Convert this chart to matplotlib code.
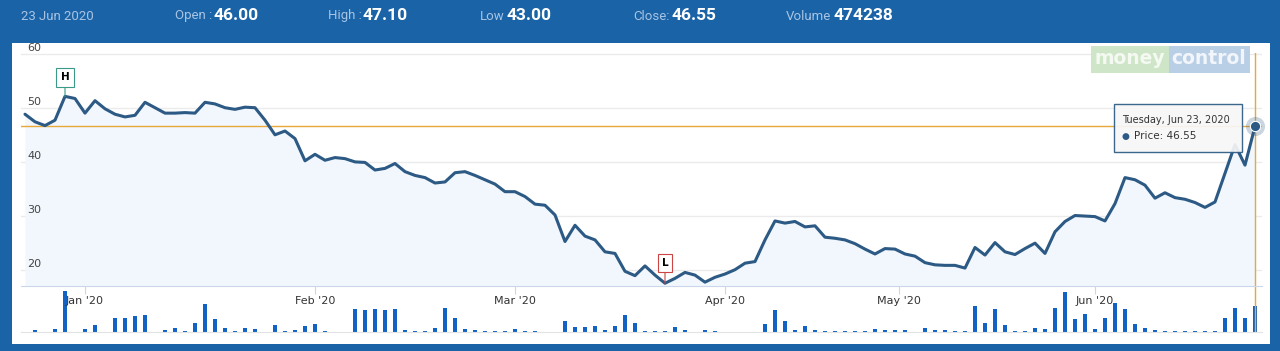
import matplotlib
matplotlib.use("Agg")
import matplotlib.pyplot as plt
from matplotlib.patches import Rectangle
import numpy as np

# closing price per trading day, 23 Dec 2019 .. 23 Jun 2020
price = [48.8, 47.4, 46.7, 47.7, 52.1, 51.7, 49.0, 51.3, 49.8, 48.8,
         48.3, 48.6, 51.0, 50.0, 49.0, 49.0, 49.1, 49.0, 51.0, 50.7,
         50.0, 49.7, 50.1, 50.0, 47.7, 45.0, 45.7, 44.3, 40.2, 41.4,
         40.3, 40.8, 40.6, 40.0, 39.9, 38.5, 38.8, 39.7, 38.2, 37.5,
         37.1, 36.1, 36.3, 38.0, 38.2, 37.5, 36.7, 35.9, 34.5, 34.5,
         33.6, 32.2, 32.0, 30.2, 25.3, 28.3, 26.3, 25.6, 23.4, 23.1,
         19.8, 19.0, 20.8, 19.1, 17.6, 18.5, 19.6, 19.1, 17.8, 18.7,
         19.3, 20.1, 21.3, 21.6, 25.6, 29.1, 28.7, 29.0, 28.0, 28.2,
         26.1, 25.9, 25.6, 24.9, 23.9, 23.0, 24.0, 23.9, 23.0, 22.6,
         21.4, 21.0, 20.9, 20.9, 20.4, 24.2, 22.8, 25.1, 23.4, 22.9,
         24.0, 25.0, 23.1, 27.1, 29.0, 30.1, 30.0, 29.9, 29.1, 32.3,
         37.1, 36.7, 35.7, 33.3, 34.3, 33.4, 33.1, 32.5, 31.6, 32.6,
         37.9, 43.2, 39.4, 46.55]

volume = [0, 31000, 0, 50000, 756000, 0, 50000, 124000, 0, 258000,
          258000, 290000, 308000, 0, 31000, 74000, 13000, 172000, 511000, 234000,
          74000, 13000, 74000, 50000, 0, 124000, 13000, 31000, 105000, 153000,
          13000, 0, 0, 419000, 400000, 430000, 400000, 430000, 42000, 13000,
          13000, 79000, 448000, 264000, 61000, 31000, 18000, 18000, 18000, 61000,
          18000, 13000, 0, 6000, 197000, 92000, 92000, 105000, 31000, 105000,
          308000, 172000, 13000, 13000, 18000, 92000, 31000, 0, 31000, 13000,
          0, 0, 0, 0, 142000, 400000, 197000, 31000, 105000, 31000,
          13000, 13000, 18000, 13000, 13000, 50000, 31000, 31000, 31000, 0,
          74000, 31000, 42000, 13000, 13000, 474000, 172000, 430000, 124000, 13000,
          13000, 79000, 61000, 448000, 738000, 234000, 338000, 50000, 264000, 541000,
          419000, 153000, 74000, 42000, 13000, 13000, 13000, 13000, 13000, 18000,
          264000, 448000, 258000, 474238]

month_pos = [6, 29, 49, 70, 87.4, 107]
month_labels = ["Jan '20", "Feb '20", "Mar '20", "Apr '20", "May '20", "Jun '20"]
y_ticks = [20, 30, 40, 50, 60]

header_labels = ["Open :", "High :", "Low", "Close:", "Volume"]
header_values = ["46.00", "47.10", "43.00", "46.55", "474238"]
header_date = "23 Jun 2020"
tip_date = "Tuesday, Jun 23, 2020"
last_close = 46.55

W, H = 1280, 351
BLUE = "#1a63a6"
LINE = "#2c5a84"
ORANGE = "#e8a83a"


def rect(l, t, r, b):
    return [l / W, 1 - b / H, (r - l) / W, (b - t) / H]


def fx(x):
    return x / W


def fy(y):
    return 1 - y / H


fig = plt.figure(figsize=(W / 100, H / 100), dpi=100, facecolor=BLUE)
fig.add_artist(Rectangle((fx(12), fy(344)), fx(1270) - fx(12), fy(43) - fy(344),
                         transform=fig.transFigure, facecolor="white",
                         edgecolor="none", zorder=-1))

x = np.arange(len(price))
ymin = 60 - (286 - 53) / 5.43
xlim = (-0.4, 123.7)

# volume pane
axv = fig.add_axes(rect(21, 286, 1262, 332))
axv.patch.set_visible(False)
axv.bar(x, volume, width=0.35, color="#1262c4")
axv.set_xlim(*xlim)
axv.set_ylim(0, 756000 * 46 / 41)
for s in ["top", "left", "right"]:
    axv.spines[s].set_visible(False)
axv.spines["bottom"].set_color("#e3e3e3")
axv.set_xticks([])
axv.set_yticks([])
axv.axvline(len(price) - 1, color=ORANGE, lw=1)

# price pane
ax = fig.add_axes(rect(21, 53, 1262, 286))
ax.patch.set_visible(False)
ax.fill_between(x, price, ymin, color="#f1f7fd", lw=0)
ax.plot(x, price, color=LINE, lw=2.2, solid_joinstyle="round",
        solid_capstyle="round", zorder=3)
ax.set_xlim(*xlim)
ax.set_ylim(ymin, 60.1)
ax.set_yticks(y_ticks)
ax.yaxis.grid(True, color="#ebebeb", lw=1)
ax.set_axisbelow(True)
ax.tick_params(axis="y", length=0, labelleft=False)
for v in y_ticks:
    ax.text(0.2, v + 1.1, str(v), ha="left", va="center", fontsize=8,
            color="#444444", clip_on=False)
ax.set_xticks(month_pos, month_labels)
ax.tick_params(axis="x", direction="out", length=6, color="#ccd6eb",
               labelsize=8, labelcolor="#333333", pad=1.5)
for s in ["top", "left", "right"]:
    ax.spines[s].set_visible(False)
ax.spines["bottom"].set_color("#ccd6eb")

# crosshair
ax.axhline(last_close, color=ORANGE, lw=1, zorder=2)
ax.axvline(len(price) - 1, color=ORANGE, lw=1, zorder=2)

# high / low flags
hi = int(np.argmax(price))
lo = int(np.argmin(price))
ax.annotate("H", xy=(hi, price[hi]), xytext=(hi, price[hi] + 3.5),
            ha="center", va="center", fontsize=7.5, fontweight="bold",
            bbox=dict(boxstyle="square,pad=0.4", fc="white", ec="#3a9a8a", lw=0.8),
            arrowprops=dict(arrowstyle="-", color="#3a9a8a", lw=0.8,
                            shrinkA=0, shrinkB=0), zorder=5)
ax.annotate("L", xy=(lo, price[lo]), xytext=(lo, price[lo] + 3.7),
            ha="center", va="center", fontsize=7.5, fontweight="bold",
            bbox=dict(boxstyle="square,pad=0.4", fc="white", ec="#cc4444", lw=0.8),
            arrowprops=dict(arrowstyle="-", color="#cc4444", lw=0.8,
                            shrinkA=0, shrinkB=0), zorder=5)

# hovered point
ax.scatter([len(price) - 1], [last_close], s=190, color=LINE, alpha=0.25,
           lw=0, zorder=6, clip_on=False)
ax.scatter([len(price) - 1], [last_close], s=55, color=LINE,
           edgecolor="white", lw=0.8, zorder=7, clip_on=False)

# tooltip
fig.add_artist(Rectangle((fx(1114), fy(152)), fx(1242) - fx(1114), fy(104) - fy(152),
                         transform=fig.transFigure, facecolor="#f7f7f7",
                         edgecolor=LINE, lw=1, alpha=0.92, zorder=8))
fig.text(fx(1122), fy(120), tip_date, fontsize=7, color="#333333",
         va="center", zorder=9)
fig.text(fx(1122), fy(136), "\u25cf", fontsize=6.5, color=LINE, va="center", zorder=9)
fig.text(fx(1134), fy(136), "Price: %.2f" % last_close, fontsize=7.5,
         color="#333333", va="center", zorder=9)

# watermark
fig.add_artist(Rectangle((fx(1091), fy(73)), fx(1169) - fx(1091), fy(46) - fy(73),
                         transform=fig.transFigure, facecolor="#cfe5c8",
                         edgecolor="none", zorder=1))
fig.add_artist(Rectangle((fx(1169), fy(73)), fx(1250) - fx(1169), fy(46) - fy(73),
                         transform=fig.transFigure, facecolor="#b9cfe6",
                         edgecolor="none", zorder=1))
fig.text(fx(1130), fy(59), "money", fontsize=13.5, fontweight="bold",
         color="#f4f9f2", ha="center", va="center", zorder=2)
fig.text(fx(1209), fy(59), "control", fontsize=13.5, fontweight="bold",
         color="#f2f6fb", ha="center", va="center", zorder=2)

# header strip
fig.text(fx(21), fy(16), header_date, family=["Roboto", "DejaVu Sans"],
         fontsize=9.5, color="#a8c4e4", va="center")
label_x = [175, 328, 480, 633, 786]
value_x = [214, 363, 507, 672, 834]
for lx, vx, lab, val in zip(label_x, value_x, header_labels, header_values):
    fig.text(fx(lx), fy(16), lab, family=["Roboto", "DejaVu Sans"],
             fontsize=9.5, color="#a8c4e4", va="center")
    fig.text(fx(vx), fy(16), val, family=["Roboto", "DejaVu Sans"],
             fontsize=12.5, fontweight="bold", color="white", va="center")

fig.savefig("out.png", dpi=100, facecolor=BLUE)
